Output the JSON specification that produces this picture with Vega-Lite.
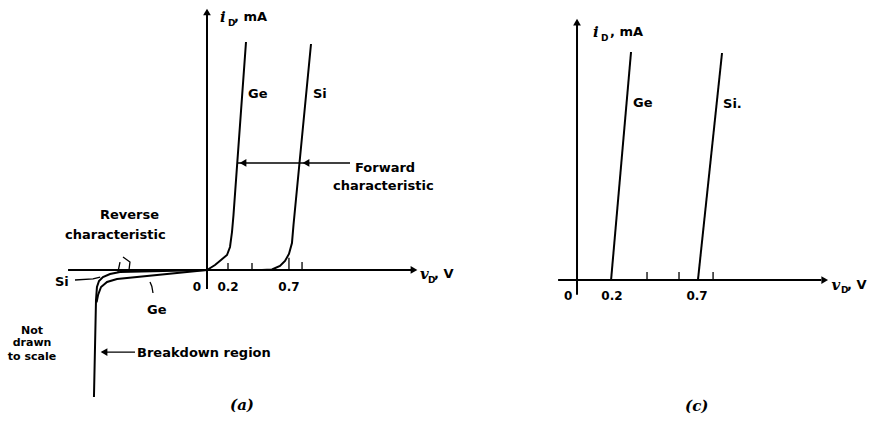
{
"$schema": "https://vega.github.io/schema/vega-lite/v6.json",
"background": "white",
"padding": 0,
"spacing": 0,
"config": {"view": {"stroke": null}},
"datasets": {
"curvesA": [
{"s":"GeF","o":0,"v":0,"i":0},{"s":"GeF","o":1,"v":0.0667,"i":0.185},{"s":"GeF","o":2,"v":0.1167,"i":0.37},{"s":"GeF","o":3,"v":0.1667,"i":0.556},{"s":"GeF","o":4,"v":0.1917,"i":0.852},{"s":"GeF","o":5,"v":0.2083,"i":1.407},{"s":"GeF","o":6,"v":0.2208,"i":2.037},{"s":"GeF","o":7,"v":0.325,"i":8.444},
{"s":"SiF","o":0,"v":0,"i":0},{"s":"SiF","o":1,"v":0.458,"i":0},{"s":"SiF","o":2,"v":0.5417,"i":0.0185},{"s":"SiF","o":3,"v":0.608,"i":0.148},{"s":"SiF","o":4,"v":0.65,"i":0.333},{"s":"SiF","o":5,"v":0.683,"i":0.593},{"s":"SiF","o":6,"v":0.708,"i":1.0},{"s":"SiF","o":7,"v":0.7208,"i":1.667},{"s":"SiF","o":8,"v":0.8667,"i":8.37},
{"s":"SiR","o":0,"v":0,"i":0},{"s":"SiR","o":1,"v":-0.725,"i":-0.074},{"s":"SiR","o":2,"v":-0.808,"i":-0.148},{"s":"SiR","o":3,"v":-0.867,"i":-0.259},{"s":"SiR","o":4,"v":-0.9,"i":-0.407},{"s":"SiR","o":5,"v":-0.917,"i":-0.63},{"s":"SiR","o":6,"v":-0.925,"i":-1.111},{"s":"SiR","o":7,"v":-0.942,"i":-4.704},
{"s":"GeR","o":0,"v":0,"i":0},{"s":"GeR","o":1,"v":-0.333,"i":-0.148},{"s":"GeR","o":2,"v":-0.75,"i":-0.333},{"s":"GeR","o":3,"v":-0.833,"i":-0.444},{"s":"GeR","o":4,"v":-0.883,"i":-0.63},{"s":"GeR","o":5,"v":-0.908,"i":-0.926},{"s":"GeR","o":6,"v":-0.92,"i":-1.2},
{"s":"xAxis","o":0,"v":-1.158,"i":0},{"s":"xAxis","o":1,"v":1.72,"i":0},
{"s":"yAxis","o":0,"v":0,"i":-0.7},{"s":"yAxis","o":1,"v":0,"i":9.5}
],
"pointersA": [
{"s":"fwd","o":0,"v":0.25,"i":3.963},{"s":"fwd","o":1,"v":1.192,"i":3.963},
{"s":"brk","o":0,"v":-0.6,"i":-3.04},{"s":"brk","o":1,"v":-0.875,"i":-3.04},
{"s":"siPtr","o":0,"v":-1.1,"i":-0.37},{"s":"siPtr","o":1,"v":-0.95,"i":-0.33},{"s":"siPtr","o":2,"v":-0.89,"i":-0.26},
{"s":"gePtr","o":0,"v":-0.475,"i":-0.444},{"s":"gePtr","o":1,"v":-0.46,"i":-0.6},{"s":"gePtr","o":2,"v":-0.45,"i":-0.852},
{"s":"rev1","o":0,"v":-0.725,"i":0.296},{"s":"rev1","o":1,"v":-0.742,"i":-0.074},
{"s":"rev2","o":0,"v":-0.7,"i":0.481},{"s":"rev2","o":1,"v":-0.642,"i":0.296},{"s":"rev2","o":2,"v":-0.65,"i":0.0},
{"s":"t1","o":0,"v":0.175,"i":0},{"s":"t1","o":1,"v":0.175,"i":0.26},
{"s":"t2","o":0,"v":0.375,"i":0},{"s":"t2","o":1,"v":0.375,"i":0.26},
{"s":"t3","o":0,"v":0.683,"i":0},{"s":"t3","o":1,"v":0.683,"i":0.45},
{"s":"t4","o":0,"v":0.792,"i":0},{"s":"t4","o":1,"v":0.792,"i":0.3}
],
"arrowsA": [
{"dir":"up","v":0,"i":9.556},{"dir":"right","v":1.725,"i":0},{"dir":"left","v":0.3,"i":3.963},{"dir":"left","v":0.825,"i":3.963},{"dir":"left","v":-0.858,"i":-3.04}
],
"labelsA": [
{"t":"Ge","v":0.342,"i":6.52},{"t":"Si","v":0.883,"i":6.52},
{"t":"Forward","v":1.233,"i":3.78},{"t":"characteristic","v":1.05,"i":3.11},
{"t":"Reverse","v":-0.892,"i":2.04},{"t":"characteristic","v":-1.183,"i":1.3},
{"t":"Si","v":-1.267,"i":-0.444},{"t":"Ge","v":-0.5,"i":-1.481},
{"t":"Breakdown region","v":-0.583,"i":-3.074},
{"t":", mA","v":0.225,"i":9.37},{"t":", V","v":1.892,"i":-0.148}
],
"ticksA": [
{"t":"0","v":-0.083,"i":-0.63},{"t":"0.2","v":0.175,"i":-0.63},{"t":"0.7","v":0.683,"i":-0.63}
],
"noteA": [
{"t":"Not","v":-1.458,"i":-2.259},{"t":"drawn","v":-1.458,"i":-2.704},{"t":"to scale","v":-1.458,"i":-3.222}
],
"italicA": [
{"t":"i","v":0.108,"i":9.37},{"t":"v","v":1.775,"i":-0.148},{"t":"(a)","v":0.192,"i":-5.0}
],
"subA": [
{"t":"D","v":0.175,"i":9.15},{"t":"D","v":1.842,"i":-0.37}
],
"curvesC": [
{"s":"xAxis","o":0,"v":-0.11,"i":0},{"s":"xAxis","o":1,"v":1.42,"i":0},
{"s":"yAxis","o":0,"v":0,"i":-0.55},{"s":"yAxis","o":1,"v":0,"i":9.5},
{"s":"GeF","o":0,"v":0.198,"i":0},{"s":"GeF","o":1,"v":0.314,"i":8.444},
{"s":"SiF","o":0,"v":0.703,"i":0},{"s":"SiF","o":1,"v":0.843,"i":8.407}
],
"ticksMarkC": [
{"s":"t1","o":0,"v":0.407,"i":0},{"s":"t1","o":1,"v":0.407,"i":0.3},
{"s":"t2","o":0,"v":0.593,"i":0},{"s":"t2","o":1,"v":0.593,"i":0.3},
{"s":"t3","o":0,"v":0.791,"i":0},{"s":"t3","o":1,"v":0.791,"i":0.3}
],
"arrowsC": [
{"dir":"up","v":0,"i":9.55},{"dir":"right","v":1.44,"i":0}
],
"labelsC": [
{"t":"Ge","v":0.326,"i":6.556},{"t":"Si.","v":0.849,"i":6.52},
{"t":", mA","v":0.192,"i":9.19},{"t":", V","v":1.57,"i":-0.185}
],
"ticksC": [
{"t":"0","v":-0.052,"i":-0.593},{"t":"0.2","v":0.203,"i":-0.593},{"t":"0.7","v":0.698,"i":-0.593}
],
"italicC": [
{"t":"i","v":0.093,"i":9.19},{"t":"v","v":1.48,"i":-0.185},{"t":"(c)","v":0.628,"i":-4.667}
],
"subC": [
{"t":"D","v":0.14,"i":8.97},{"t":"D","v":1.535,"i":-0.37}
]
},
"hconcat": [
{
"width": 480, "height": 428,
"encoding": {
"x": {"field":"v","type":"quantitative","scale":{"domain":[-1.725,2.275],"nice":false,"zero":false},"axis":null},
"y": {"field":"i","type":"quantitative","scale":{"domain":[-5.852,10],"nice":false,"zero":false},"axis":null}
},
"layer": [
{"data":{"name":"curvesA"},"mark":{"type":"line","color":"black","strokeWidth":2,"clip":false},"encoding":{"detail":{"field":"s"},"order":{"field":"o"}}},
{"data":{"name":"pointersA"},"mark":{"type":"line","color":"black","strokeWidth":1.3,"clip":false},"encoding":{"detail":{"field":"s"},"order":{"field":"o"}}},
{"data":{"name":"arrowsA"},"mark":{"type":"point","filled":true,"color":"black","size":60,"opacity":1},"encoding":{"shape":{"field":"dir","type":"nominal","scale":{"domain":["up","right","left"],"range":["triangle-up","triangle-right","triangle-left"]},"legend":null}}},
{"data":{"name":"labelsA"},"mark":{"type":"text","font":"DejaVu Sans","fontWeight":"bold","fontSize":13,"align":"left","baseline":"middle","color":"black"},"encoding":{"text":{"field":"t"}}},
{"data":{"name":"ticksA"},"mark":{"type":"text","font":"DejaVu Sans","fontWeight":"bold","fontSize":12,"align":"center","baseline":"middle","color":"black"},"encoding":{"text":{"field":"t"}}},
{"data":{"name":"noteA"},"mark":{"type":"text","font":"DejaVu Sans","fontWeight":"bold","fontSize":11,"align":"center","baseline":"middle","color":"black"},"encoding":{"text":{"field":"t"}}},
{"data":{"name":"italicA"},"mark":{"type":"text","font":"DejaVu Serif","fontStyle":"italic","fontWeight":"bold","fontSize":15,"align":"left","baseline":"middle","color":"black"},"encoding":{"text":{"field":"t"}}},
{"data":{"name":"subA"},"mark":{"type":"text","font":"DejaVu Sans","fontWeight":"bold","fontSize":9,"align":"left","baseline":"middle","color":"black"},"encoding":{"text":{"field":"t"}}}
]
},
{
"width": 397, "height": 428,
"encoding": {
"x": {"field":"v","type":"quantitative","scale":{"domain":[-0.564,1.744],"nice":false,"zero":false},"axis":null},
"y": {"field":"i","type":"quantitative","scale":{"domain":[-5.48,10.37],"nice":false,"zero":false},"axis":null}
},
"layer": [
{"data":{"name":"curvesC"},"mark":{"type":"line","color":"black","strokeWidth":2,"clip":false},"encoding":{"detail":{"field":"s"},"order":{"field":"o"}}},
{"data":{"name":"ticksMarkC"},"mark":{"type":"line","color":"black","strokeWidth":1.3,"clip":false},"encoding":{"detail":{"field":"s"},"order":{"field":"o"}}},
{"data":{"name":"arrowsC"},"mark":{"type":"point","filled":true,"color":"black","size":60,"opacity":1},"encoding":{"shape":{"field":"dir","type":"nominal","scale":{"domain":["up","right","left"],"range":["triangle-up","triangle-right","triangle-left"]},"legend":null}}},
{"data":{"name":"labelsC"},"mark":{"type":"text","font":"DejaVu Sans","fontWeight":"bold","fontSize":13,"align":"left","baseline":"middle","color":"black"},"encoding":{"text":{"field":"t"}}},
{"data":{"name":"ticksC"},"mark":{"type":"text","font":"DejaVu Sans","fontWeight":"bold","fontSize":12,"align":"center","baseline":"middle","color":"black"},"encoding":{"text":{"field":"t"}}},
{"data":{"name":"italicC"},"mark":{"type":"text","font":"DejaVu Serif","fontStyle":"italic","fontWeight":"bold","fontSize":15,"align":"left","baseline":"middle","color":"black"},"encoding":{"text":{"field":"t"}}},
{"data":{"name":"subC"},"mark":{"type":"text","font":"DejaVu Sans","fontWeight":"bold","fontSize":9,"align":"left","baseline":"middle","color":"black"},"encoding":{"text":{"field":"t"}}}
]
}
]
}
